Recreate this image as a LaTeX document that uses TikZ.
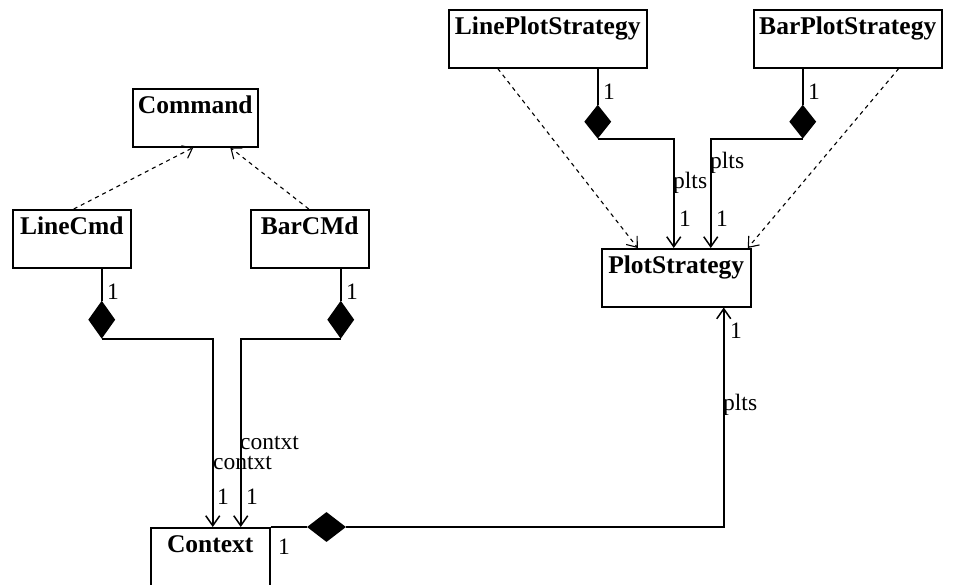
\documentclass[tikz,border=0pt]{standalone}
\usepackage{fontspec}
\setmainfont{Liberation Serif}
\usetikzlibrary{shapes.geometric,arrows.meta,calc}
\begin{document}
\begin{tikzpicture}[x=1pt,y=-1pt,
 cls/.style={draw, line width=1.5pt, inner sep=0pt, minimum height=58pt, text height=25pt, text depth=33pt, anchor=north west, font=\fontsize{25.5}{28}\selectfont\bfseries},
 comp/.style={diamond, fill=black, inner sep=0pt, minimum width=27pt, minimum height=36pt, anchor=north},
 lbl/.style={anchor=west, inner sep=0pt, font=\fontsize{23.5}{26}\selectfont},
 conn/.style={line width=1.5pt},
 real/.style={line width=1.1pt, dash pattern=on 4pt off 4pt, -{Straight Barb[length=9pt,width=14pt]}},
 nav/.style={conn, -{Straight Barb[length=10pt,width=14pt]}}
]
\useasboundingbox (0,0) rectangle (966,584);
% classes
\node[cls, minimum width=125pt] (command) at (132,88) {Command};
\node[cls, minimum width=118pt] (linecmd) at (12,209) {LineCmd};
\node[cls, minimum width=118pt] (barcmd) at (250,209) {BarCMd};
\node[cls, minimum width=119pt] (context) at (150,527) {Context};
\node[cls, minimum width=198pt] (lineps) at (448,9) {LinePlotStrategy};
\node[cls, minimum width=188pt] (barps) at (753,9) {BarPlotStrategy};
\node[cls, minimum width=149pt, minimum height=57pt] (plotstrategy) at (601,248) {PlotStrategy};
% realizations
\draw[real] ($(linecmd.north)+(2,0)$) -- ($(command.south)+(-2,0)$);
\draw[real] ($(barcmd.north)+(-1,0)$) -- ($(command.south)+(35,0)$);
\draw[real] ($(lineps.south)+(-50,0)$) -- ($(plotstrategy.north)+(-38.5,0)$);
\draw[real] ($(barps.south)+(51,0)$) -- ($(plotstrategy.north)+(71.5,0)$);
% compositions
\node[comp, minimum height=38pt] (d1) at ($(linecmd.south)+(30,32)$) {};
\node[comp, minimum height=38pt] (d2) at ($(barcmd.south)+(31,32)$) {};
\node[comp, minimum height=34pt] (d3) at ($(lineps.south)+(50,36)$) {};
\node[comp, minimum height=34pt] (d4) at ($(barps.south)+(-45,36)$) {};
\node[comp, minimum width=39pt, minimum height=30pt, anchor=center] (d5) at (326.5,527) {};
\draw[conn] ($(linecmd.south)+(30,0)$) -- (d1.north);
\draw[conn] ($(barcmd.south)+(31,0)$) -- (d2.north);
\draw[conn] ($(lineps.south)+(50,0)$) -- (d3.north);
\draw[conn] ($(barps.south)+(-45,0)$) -- (d4.north);
\draw[nav] (d1.south) -| ($(context.north)+(2.5,0)$);
\draw[nav] (d2.south) -| ($(context.north)+(30.5,0)$);
\draw[nav] (d3.south) -| ($(plotstrategy.north)+(-2.5,0)$);
\draw[nav] (d4.south) -| ($(plotstrategy.north)+(34.5,0)$);
\draw[conn] (context.north east) -- (d5.west);
\draw[nav] (d5.east) -| ($(plotstrategy.south)+(47.5,0)$);
% labels
\node[lbl] (l1) at (107,292) {1};
\node[lbl] (l2) at (346,292) {1};
\node[lbl] (l3) at (213,463) {contxt};
\node[lbl] (l4) at (240,443) {contxt};
\node[lbl] (l5) at (217,497) {1};
\node[lbl] (l6) at (246,497) {1};
\node[lbl] (l7) at (278,547) {1};
\node[lbl] (l8) at (603,92) {1};
\node[lbl] (l9) at (808,92) {1};
\node[lbl] (l10) at (673,183) {plts};
\node[lbl] (l11) at (710,163) {plts};
\node[lbl] (l12) at (679,219) {1};
\node[lbl] (l13) at (716,219) {1};
\node[lbl] (l14) at (730,331) {1};
\node[lbl] (l15) at (723,405) {plts};
\end{tikzpicture}
\end{document}
